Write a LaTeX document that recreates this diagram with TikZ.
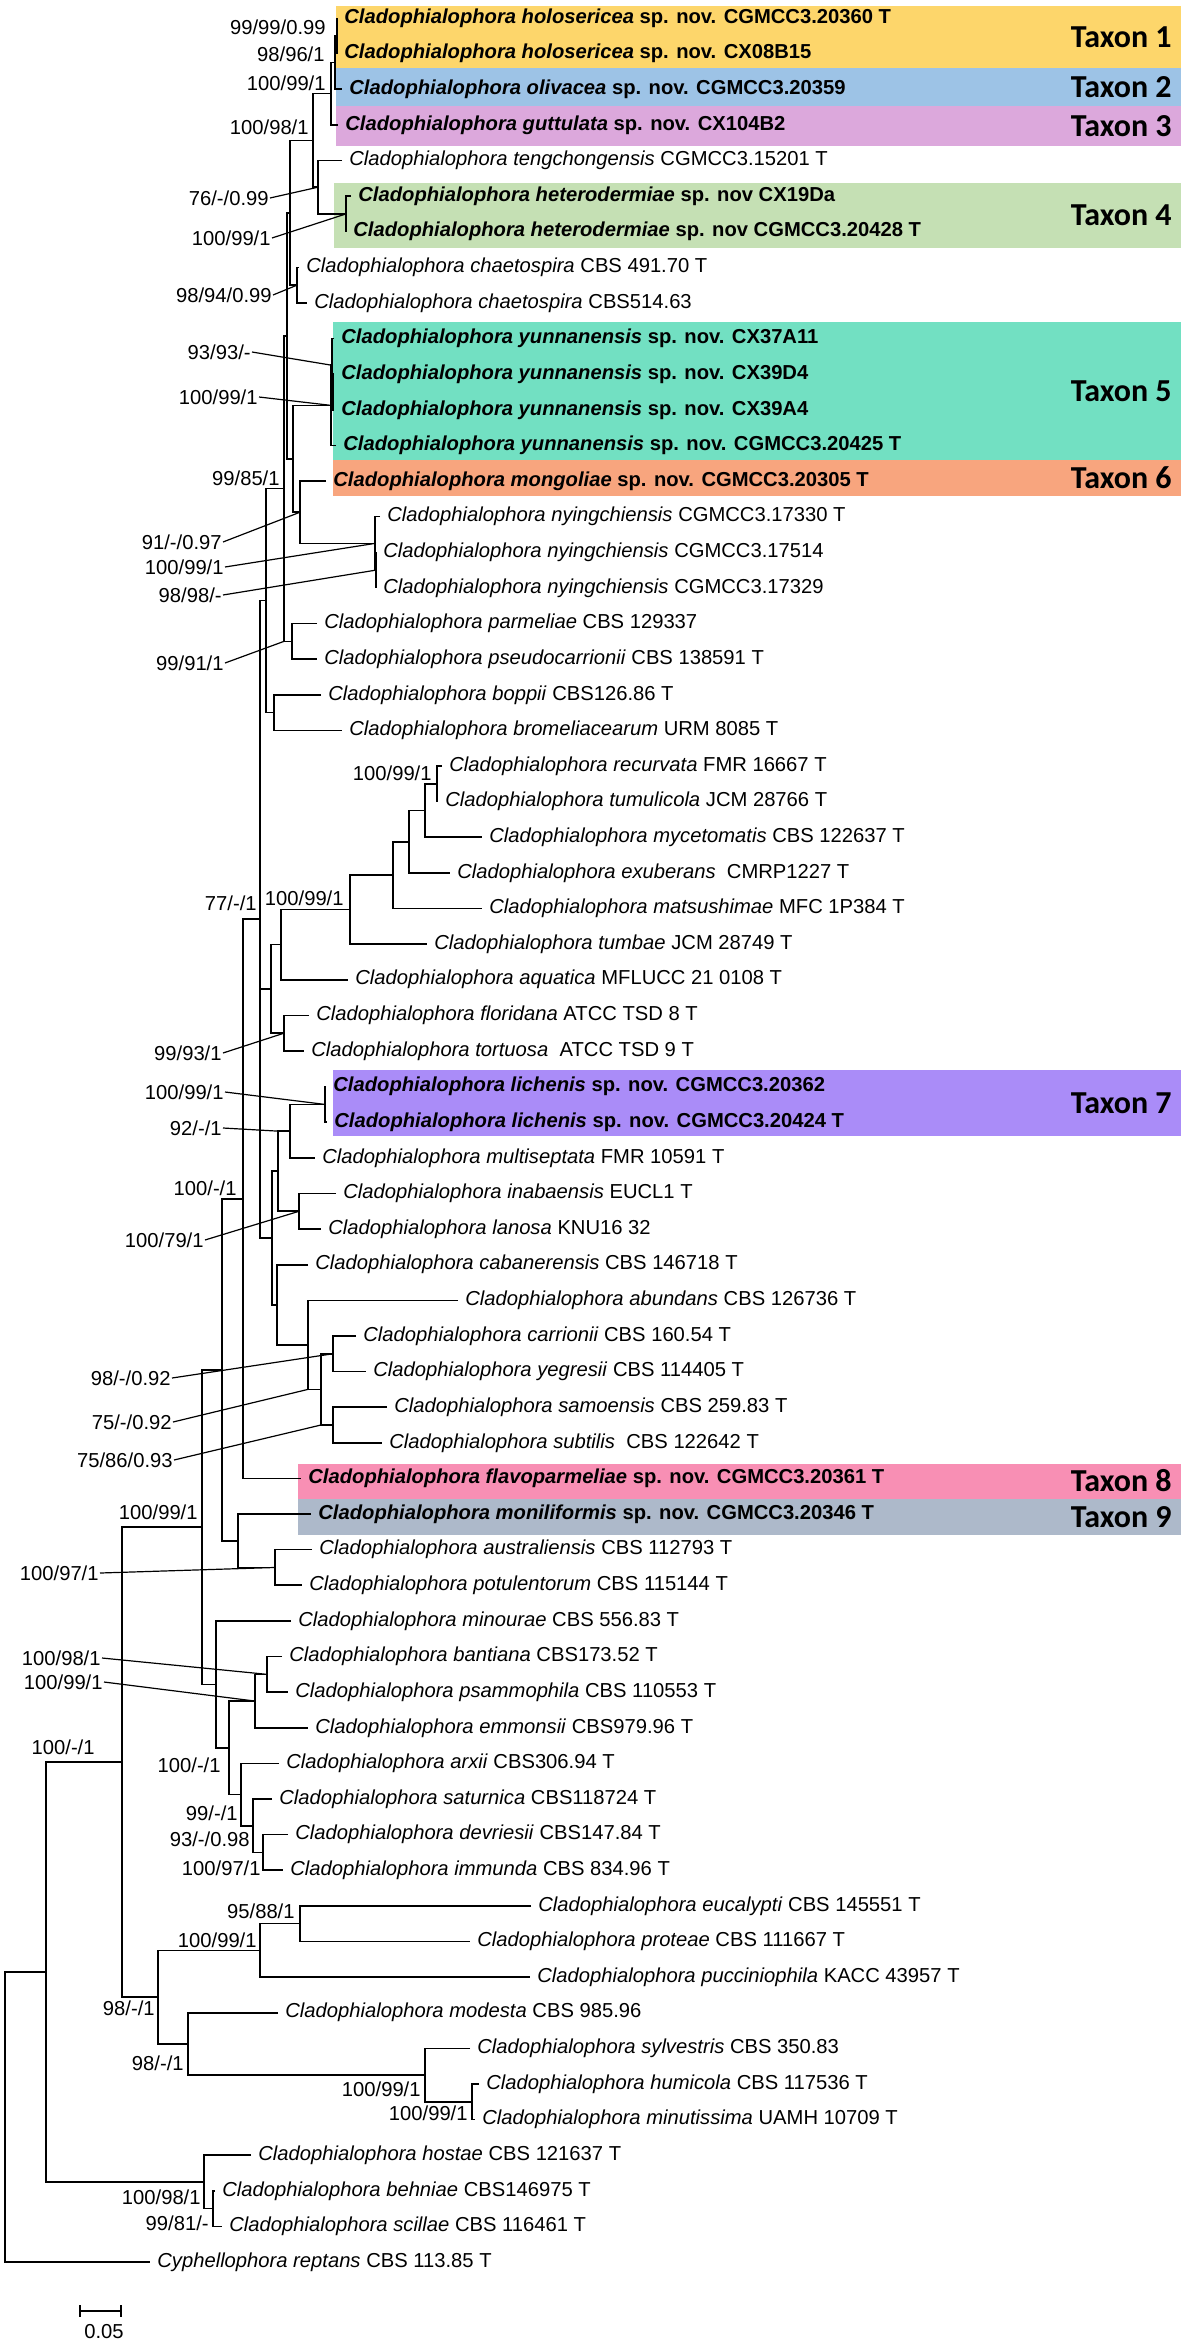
\documentclass[tikz,border=0pt]{standalone}
\usepackage{fontspec}
\setmainfont{Liberation Sans}
\newfontfamily\taxfont{Carlito}
\usetikzlibrary{calc}
\newcommand\cl[2]{\textit{Cladophialophora #1} #2}
\newcommand\clb[2]{\textbf{\textit{Cladophialophora #1} #2}}
\newcommand\lf{\fontsize{10.1}{12}\selectfont}
\newcommand\tf{\taxfont\bfseries\fontsize{16}{19}\selectfont}
\pgfmathdeclarefunction{ry}{1}{\pgfmathparse{18+(#1-1)*35.62}}
\newcommand\inode[4]{%
  \coordinate (#1m) at ($(#3)!.5!(#4)$);
  \coordinate (#1) at (#2,0 |- #1m);
  \draw[br] (#3) -| (#1) |- (#4);}
\definecolor{c1}{HTML}{FDD66B}
\definecolor{c2}{HTML}{9DC3E6}
\definecolor{c3}{HTML}{DCA8DC}
\definecolor{c4}{HTML}{C5E0B4}
\definecolor{c5}{HTML}{72E0C2}
\definecolor{c6}{HTML}{F8A57E}
\definecolor{c7}{HTML}{AA8CF8}
\definecolor{c8}{HTML}{F88FB4}
\definecolor{c9}{HTML}{ADB9CA}
\begin{document}
\begin{tikzpicture}[x=0.5pt,y=-0.5pt,
  br/.style={draw=black,line width=0.8pt},
  ld/.style={draw=black,line width=0.6pt},
  leaf/.style={anchor=west,inner xsep=3.5pt,inner ysep=0pt,font=\lf},
  bs/.style={anchor=east,inner sep=0.5pt,font=\lf},
  tax/.style={anchor=east,inner sep=0pt,font=\tf}]
\useasboundingbox (0,0) rectangle (1181,2345);
\fill[white] (0,0) rectangle (1181,2345);
% coloured boxes
\fill[c1] (336,6) rectangle (1181,68);
\fill[c2] (336,68) rectangle (1181,106);
\fill[c3] (336,106) rectangle (1181,146);
\fill[c4] (334,183) rectangle (1181,248);
\fill[c5] (333,322) rectangle (1181,460);
\fill[c6] (333,460) rectangle (1181,496);
\fill[c7] (333,1070) rectangle (1181,1136);
\fill[c8] (298,1464) rectangle (1181,1499);
\fill[c9] (298,1499) rectangle (1181,1535);
% taxon labels
\node[tax] (t1) at (1172,37) {Taxon 1};
\node[tax] (t2) at (1172,87) {Taxon 2};
\node[tax] (t3) at (1172,126) {Taxon 3};
\node[tax] (t4) at (1172,215) {Taxon 4};
\node[tax] (t5) at (1172,391) {Taxon 5};
\node[tax] (t6) at (1172,478) {Taxon 6};
\node[tax] (t7) at (1172,1103) {Taxon 7};
\node[tax] (t8) at (1172,1481) {Taxon 8};
\node[tax] (t9) at (1172,1517) {Taxon 9};
% leaves
\node[leaf] (l1) at (337,{ry(1)}) {\clb{holosericea}{sp. nov. CGMCC3.20360 T}};
\node[leaf] (l2) at (337,{ry(2)}) {\clb{holosericea}{sp. nov. CX08B15}};
\node[leaf] (l3) at (342,{ry(3)}) {\clb{olivacea}{sp. nov. CGMCC3.20359}};
\node[leaf] (l4) at (338,{ry(4)}) {\clb{guttulata}{sp. nov. CX104B2}};
\node[leaf] (l5) at (342,{ry(5)}) {\cl{tengchongensis}{CGMCC3.15201 T}};
\node[leaf] (l6) at (351,{ry(6)}) {\clb{heterodermiae}{sp. nov CX19Da}};
\node[leaf] (l7) at (346,{ry(7)}) {\clb{heterodermiae}{sp. nov CGMCC3.20428 T}};
\node[leaf] (l8) at (299,{ry(8)}) {\cl{chaetospira}{CBS 491.70 T}};
\node[leaf] (l9) at (307,{ry(9)}) {\cl{chaetospira}{CBS514.63}};
\node[leaf] (l10) at (334,{ry(10)}) {\clb{yunnanensis}{sp. nov. CX37A11}};
\node[leaf] (l11) at (334,{ry(11)}) {\clb{yunnanensis}{sp. nov. CX39D4}};
\node[leaf] (l12) at (334,{ry(12)}) {\clb{yunnanensis}{sp. nov. CX39A4}};
\node[leaf] (l13) at (336,{ry(13)}) {\clb{yunnanensis}{sp. nov. CGMCC3.20425 T}};
\node[leaf] (l14) at (326,{ry(14)}) {\clb{mongoliae}{sp. nov. CGMCC3.20305 T}};
\node[leaf] (l15) at (380,{ry(15)}) {\cl{nyingchiensis}{CGMCC3.17330 T}};
\node[leaf] (l16) at (376,{ry(16)}) {\cl{nyingchiensis}{CGMCC3.17514}};
\node[leaf] (l17) at (376,{ry(17)}) {\cl{nyingchiensis}{CGMCC3.17329}};
\node[leaf] (l18) at (317,{ry(18)}) {\cl{parmeliae}{CBS 129337}};
\node[leaf] (l19) at (317,{ry(19)}) {\cl{pseudocarrionii}{CBS 138591 T}};
\node[leaf] (l20) at (321,{ry(20)}) {\cl{boppii}{CBS126.86 T}};
\node[leaf] (l21) at (342,{ry(21)}) {\cl{bromeliacearum}{URM 8085 T}};
\node[leaf] (l22) at (442,{ry(22)}) {\cl{recurvata}{FMR 16667 T}};
\node[leaf] (l23) at (438,{ry(23)}) {\cl{tumulicola}{JCM 28766 T}};
\node[leaf] (l24) at (482,{ry(24)}) {\cl{mycetomatis}{CBS 122637 T}};
\node[leaf] (l25) at (450,{ry(25)}) {\cl{exuberans}{\hspace{0.28em}CMRP1227 T}};
\node[leaf] (l26) at (482,{ry(26)}) {\cl{matsushimae}{MFC 1P384 T}};
\node[leaf] (l27) at (427,{ry(27)}) {\cl{tumbae}{JCM 28749 T}};
\node[leaf] (l28) at (348,{ry(28)}) {\cl{aquatica}{MFLUCC 21 0108 T}};
\node[leaf] (l29) at (309,{ry(29)}) {\cl{floridana}{ATCC TSD 8 T}};
\node[leaf] (l30) at (304,{ry(30)}) {\cl{tortuosa}{\hspace{0.28em}ATCC TSD 9 T}};
\node[leaf] (l31) at (326,{ry(31)}) {\clb{lichenis}{sp. nov. CGMCC3.20362}};
\node[leaf] (l32) at (327,{ry(32)}) {\clb{lichenis}{sp. nov. CGMCC3.20424 T}};
\node[leaf] (l33) at (315,{ry(33)}) {\cl{multiseptata}{FMR 10591 T}};
\node[leaf] (l34) at (336,{ry(34)}) {\cl{inabaensis}{EUCL1 T}};
\node[leaf] (l35) at (321,{ry(35)}) {\cl{lanosa}{KNU16 32}};
\node[leaf] (l36) at (308,{ry(36)}) {\cl{cabanerensis}{CBS 146718 T}};
\node[leaf] (l37) at (458,{ry(37)}) {\cl{abundans}{CBS 126736 T}};
\node[leaf] (l38) at (356,{ry(38)}) {\cl{carrionii}{CBS 160.54 T}};
\node[leaf] (l39) at (366,{ry(39)}) {\cl{yegresii}{CBS 114405 T}};
\node[leaf] (l40) at (387,{ry(40)}) {\cl{samoensis}{CBS 259.83 T}};
\node[leaf] (l41) at (382,{ry(41)}) {\cl{subtilis}{\hspace{0.28em}CBS 122642 T}};
\node[leaf] (l42) at (301,{ry(42)}) {\clb{flavoparmeliae}{sp. nov. CGMCC3.20361 T}};
\node[leaf] (l43) at (311,{ry(43)}) {\clb{moniliformis}{sp. nov. CGMCC3.20346 T}};
\node[leaf] (l44) at (312,{ry(44)}) {\cl{australiensis}{CBS 112793 T}};
\node[leaf] (l45) at (302,{ry(45)}) {\cl{potulentorum}{CBS 115144 T}};
\node[leaf] (l46) at (291,{ry(46)}) {\cl{minourae}{CBS 556.83 T}};
\node[leaf] (l47) at (282,{ry(47)}) {\cl{bantiana}{CBS173.52 T}};
\node[leaf] (l48) at (288,{ry(48)}) {\cl{psammophila}{CBS 110553 T}};
\node[leaf] (l49) at (308,{ry(49)}) {\cl{emmonsii}{CBS979.96 T}};
\node[leaf] (l50) at (279,{ry(50)}) {\cl{arxii}{CBS306.94 T}};
\node[leaf] (l51) at (272,{ry(51)}) {\cl{saturnica}{CBS118724 T}};
\node[leaf] (l52) at (288,{ry(52)}) {\cl{devriesii}{CBS147.84 T}};
\node[leaf] (l53) at (283,{ry(53)}) {\cl{immunda}{CBS 834.96 T}};
\node[leaf] (l54) at (531,{ry(54)}) {\cl{eucalypti}{CBS 145551 T}};
\node[leaf] (l55) at (470,{ry(55)}) {\cl{proteae}{CBS 111667 T}};
\node[leaf] (l56) at (530,{ry(56)}) {\cl{pucciniophila}{KACC 43957 T}};
\node[leaf] (l57) at (278,{ry(57)}) {\cl{modesta}{CBS 985.96}};
\node[leaf] (l58) at (470,{ry(58)}) {\cl{sylvestris}{CBS 350.83}};
\node[leaf] (l59) at (479,{ry(59)}) {\cl{humicola}{CBS 117536 T}};
\node[leaf] (l60) at (475,{ry(60)}) {\cl{minutissima}{UAMH 10709 T}};
\node[leaf] (l61) at (251,{ry(61)}) {\cl{hostae}{CBS 121637 T}};
\node[leaf] (l62) at (215,{ry(62)}) {\cl{behniae}{CBS146975 T}};
\node[leaf] (l63) at (222,{ry(63)}) {\cl{scillae}{CBS 116461 T}};
\node[leaf] (l64) at (150,{ry(64)}) {\textit{Cyphellophora reptans} CBS 113.85 T};
% internal nodes: upper clade
\inode{hP}{337}{l1.west}{l2.west}
\inode{hO}{335}{hP}{l3.west}
\inode{hG}{331}{hO}{l4.west}
\inode{hT}{346}{l6.west}{l7.west}
\inode{tH}{318}{l5.west}{hT}
\inode{N1}{313}{hG}{tH}
\inode{cP}{297}{l8.west}{l9.west}
\inode{N2}{290}{N1}{cP}
\inode{Ya}{333}{l11.west}{l12.west}
\inode{Yb}{332}{l10.west}{Ya}
\inode{Yc}{331}{Yb}{l13.west}
\inode{nyI}{376}{l16.west}{l17.west}
\inode{nyO}{375}{l15.west}{nyI}
\inode{M}{300}{l14.west}{nyO}
\inode{YM}{293}{Yc}{M}
\inode{N3}{287}{N2}{YM}
\inode{pp}{292}{l18.west}{l19.west}
\inode{N4}{284}{N3}{pp}
\inode{bb}{274}{l20.west}{l21.west}
\inode{N5}{266}{N4}{bb}
% aquatica clade
\inode{rt}{437}{l22.west}{l23.west}
\inode{rm}{425}{rt}{l24.west}
\inode{re}{409}{rm}{l25.west}
\inode{rmat}{393}{re}{l26.west}
\inode{rtb}{350}{rmat}{l27.west}
\inode{raq}{281}{rtb}{l28.west}
\inode{ft}{284}{l29.west}{l30.west}
\inode{Nq}{271}{raq}{ft}
% lichenis etc.
\inode{lp}{325}{l31.west}{l32.west}
\inode{lm}{290}{lp}{l33.west}
\inode{ia}{299}{l34.west}{l35.west}
\inode{nL}{278}{lm}{ia}
\inode{cy}{333}{l38.west}{l39.west}
\inode{ss}{333}{l40.west}{l41.west}
\inode{nC}{321}{cy}{ss}
\inode{nA}{308}{l37.west}{nC}
\inode{nB}{277}{l36.west}{nA}
\inode{nK}{272}{nL}{nB}
\inode{N6}{260}{N5}{nK}
\draw[br] (N6 |- Nq) -- (Nq);
\inode{N7}{243}{N6}{l42.west}
\inode{aupo}{275}{l44.west}{l45.west}
\inode{mo}{238}{l43.west}{aupo}
\inode{N8}{222}{N7}{mo}
\inode{bp}{267}{l47.west}{l48.west}
\inode{em}{255}{bp}{l49.west}
\inode{di}{263}{l52.west}{l53.west}
\inode{sa}{253}{l51.west}{di}
\inode{ax}{241}{l50.west}{sa}
\inode{nD}{229}{em}{ax}
\inode{nE}{216}{l46.west}{nD}
\inode{N9}{202}{N8}{nE}
\inode{ep}{300}{l54.west}{l55.west}
\inode{pu}{260}{ep}{l56.west}
\inode{hm}{472}{l59.west}{l60.west}
\inode{sy}{425}{l58.west}{hm}
\inode{md}{188}{l57.west}{sy}
\inode{nF}{158}{pu}{md}
\inode{N10}{122}{N9}{nF}
\inode{hb}{213}{l62.west}{l63.west}
\inode{ho}{204}{l61.west}{hb}
\inode{N11}{46}{N10}{ho}
\inode{root}{5}{N11}{l64.west}
% support values
\node[bs] (s1) at (327,27) {99/99/0.99};
\node[bs] (s2) at (326,54) {98/96/1};
\node[bs] (s3) at (327,83) {100/99/1};
\node[bs] (s4) at (310,127) {100/98/1};
\node[bs] (s5) at (270,198) {76/-/0.99};
\draw[ld] (s5.east) -- (tH);
\node[bs] (s6) at (272,238) {100/99/1};
\draw[ld] (s6.east) -- (hT);
\node[bs] (s7) at (273,295) {98/94/0.99};
\draw[ld] (s7.east) -- (cP);
\node[bs] (s8) at (252,352) {93/93/-};
\draw[ld] (s8.east) -- (Yb);
\node[bs] (s9) at (259,397) {100/99/1};
\draw[ld] (s9.east) -- (Yc);
\node[bs] (s10) at (281,478) {99/85/1};
\node[bs] (s11) at (223,542) {91/-/0.97};
\draw[ld] (s11.east) -- (M);
\node[bs] (s12) at (225,567) {100/99/1};
\draw[ld] (s12.east) -- (nyO);
\node[bs] (s13) at (223,595) {98/98/-};
\draw[ld] (s13.east) -- (nyI);
\node[bs] (s14) at (225,663) {99/91/1};
\draw[ld] (s14.east) -- (N4 |- pp);
\node[bs] (s15) at (433,773) {100/99/1};
\node[bs] (s16) at (345,898) {100/99/1};
\node[bs] (s17) at (258,903) {77/-/1};
\node[bs] (s18) at (223,1053) {99/93/1};
\draw[ld] (s18.east) -- (ft);
\node[bs] (s19) at (225,1092) {100/99/1};
\draw[ld] (s19.east) -- (lp);
\node[bs] (s20) at (223,1128) {92/-/1};
\draw[ld] (s20.east) -- (nL |- lm);
\node[bs] (s21) at (238,1188) {100/-/1};
\node[bs] (s22) at (205,1240) {100/79/1};
\draw[ld] (s22.east) -- (ia);
\node[bs] (s23) at (172,1378) {98/-/0.92};
\draw[ld] (s23.east) -- (cy);
\node[bs] (s24) at (173,1422) {75/-/0.92};
\draw[ld] (s24.east) -- (nA |- nC);
\node[bs] (s25) at (174,1460) {75/86/0.93};
\draw[ld] (s25.east) -- (nC |- ss);
\node[bs] (s26) at (199,1512) {100/99/1};
\node[bs] (s27) at (100,1573) {100/97/1};
\draw[ld] (s27.east) -- (aupo);
\node[bs] (s28) at (102,1658) {100/98/1};
\draw[ld] (s28.east) -- (bp);
\node[bs] (s29) at (104,1682) {100/99/1};
\draw[ld] (s29.east) -- (em);
\node[bs] (s30) at (96,1747) {100/-/1};
\node[bs] (s31) at (222,1765) {100/-/1};
\node[bs] (s32) at (239,1813) {99/-/1};
\node[bs] (s33) at (251,1839) {93/-/0.98};
\node[bs] (s34) at (262,1868) {100/97/1};
\node[bs] (s35) at (296,1911) {95/88/1};
\node[bs] (s36) at (258,1940) {100/99/1};
\node[bs] (s37) at (156,2008) {98/-/1};
\node[bs] (s38) at (185,2063) {98/-/1};
\node[bs] (s39) at (422,2089) {100/99/1};
\node[bs] (s40) at (469,2113) {100/99/1};
\node[bs] (s41) at (202,2197) {100/98/1};
\node[bs] (s42) at (210,2223) {99/81/-};
% scale bar
\coordinate (sbA) at (80,2311);
\coordinate (sbB) at (121,2311);
\draw[br] (sbA) -- (sbB);
\draw[br] ([yshift=3pt]sbA) -- ([yshift=-3pt]sbA);
\draw[br] ([yshift=3pt]sbB) -- ([yshift=-3pt]sbB);
\node[font=\lf,inner sep=0pt] (sbl) at (104,2332) {0.05};
\end{tikzpicture}
\end{document}
